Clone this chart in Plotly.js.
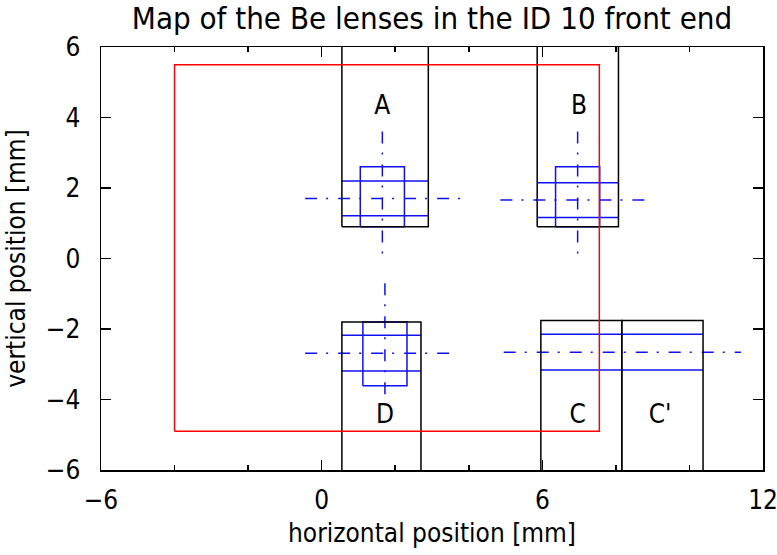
<!DOCTYPE html>
<html>
<head>
<meta charset="utf-8">
<script src="https://cdn.plot.ly/plotly-3.0.1.min.js"></script>
<style>html,body{margin:0;padding:0;background:#fff;}#chart{width:777px;height:555px;}</style>
</head>
<body>
<div id="chart"></div>
<script>
// Red aperture of the front end
const apertureX = [-4, 7.55];
const apertureY = [-4.9, 5.5];

// Black lens holders: A, B, C, C', D
const holderNames = ['A', 'B', 'C', "C'", 'D'];
const holderX0 = [0.55, 5.86, 5.96, 8.16, 0.55];
const holderX1 = [2.9, 8.07, 8.16, 10.37, 2.7];
const holderY0 = [0.9, 0.9, -6.5, -6.5, -6.5];
const holderY1 = [6.5, 6.5, -1.76, -1.76, -1.8];

// Blue horizontal band lines: A, B, C+C', D
const bandX0 = [0.55, 5.86, 5.96, 0.55];
const bandX1 = [2.9, 8.07, 10.37, 2.7];
const bandYLow = [1.21, 1.16, -3.16, -3.19];
const bandYHigh = [2.2, 2.15, -2.15, -2.18];

// Blue squares: A, B, D
const squareX0 = [1.05, 6.36, 1.12];
const squareX1 = [2.25, 7.56, 2.32];
const squareY0 = [0.9, 0.9, -3.61];
const squareY1 = [2.6, 2.6, -1.8];

// Dash-dot horizontal centre lines: A, B, C, D
const hCenterY = [1.7, 1.66, -2.66, -2.69];
const hCenterX0 = [-0.45, 4.86, 4.95, -0.45];
const hCenterX1 = [3.77, 8.97, 11.4, 3.63];

// Dash-dot vertical centre lines: A, B, D
const vCenterX = [1.65, 6.96, 1.72];
const vCenterY0 = [3.6, 3.6, -0.7];
const vCenterY1 = [-0.1, -0.12, -4.02];

// Lens labels
const labelText = ['A', 'B', 'C', "C'", 'D'];
const labelX = [1.65, 7.0, 6.96, 9.2, 1.72];
const labelY = [4.27, 4.27, -4.49, -4.49, -4.49];

function rects(x0, x1, y0, y1) {
  const xs = [], ys = [];
  for (let i = 0; i < x0.length; i++) {
    xs.push(x0[i], x1[i], x1[i], x0[i], x0[i], null);
    ys.push(y0[i], y0[i], y1[i], y1[i], y0[i], null);
  }
  return {x: xs, y: ys};
}
function hsegs(y, x0, x1) {
  const xs = [], ys = [];
  for (let i = 0; i < y.length; i++) { xs.push(x0[i], x1[i], null); ys.push(y[i], y[i], null); }
  return {x: xs, y: ys};
}
function vsegs(x, y0, y1) {
  const xs = [], ys = [];
  for (let i = 0; i < x.length; i++) { xs.push(x[i], x[i], null); ys.push(y0[i], y1[i], null); }
  return {x: xs, y: ys};
}

const FONT = '"DejaVu Sans Condensed", "Liberation Sans", sans-serif';
const DASHDOT = '12px,9px,2px,10px';
const BLUE = '#1010f0';

const sq = rects(squareX0, squareX1, squareY0, squareY1);
const bandA = hsegs(bandYLow, bandX0, bandX1);
const bandB = hsegs(bandYHigh, bandX0, bandX1);
const hold = rects(holderX0, holderX1, holderY0, holderY1);
const ap = rects([apertureX[0]], [apertureX[1]], [apertureY[0]], [apertureY[1]]);
const hc = hsegs(hCenterY, hCenterX0, hCenterX1);
const vc = vsegs(vCenterX, vCenterY0, vCenterY1);

const traces = [
  {x: sq.x, y: sq.y, mode: 'lines', line: {color: BLUE, width: 1.5}, hoverinfo: 'skip'},
  {x: bandA.x.concat(bandB.x), y: bandA.y.concat(bandB.y), mode: 'lines', line: {color: BLUE, width: 1.5}, hoverinfo: 'skip'},
  {x: hc.x, y: hc.y, mode: 'lines', line: {color: BLUE, width: 1.5, dash: DASHDOT}, hoverinfo: 'skip'},
  {x: vc.x, y: vc.y, mode: 'lines', line: {color: BLUE, width: 1.5, dash: DASHDOT}, hoverinfo: 'skip'},
  {x: hold.x, y: hold.y, mode: 'lines', line: {color: '#000', width: 1.5}, hoverinfo: 'skip'},
  {x: ap.x, y: ap.y, mode: 'lines', line: {color: '#ff0000', width: 1.5}, hoverinfo: 'skip'},
  {x: labelX, y: labelY, text: labelText, mode: 'text', textposition: 'middle center',
   textfont: {family: FONT, size: 26, color: '#000'}, hoverinfo: 'skip'}
];

const axisCommon = {
  showgrid: false, zeroline: false, showline: true, linecolor: '#000', linewidth: 1.5,
  mirror: 'ticks', ticks: 'inside', ticklen: 10, tickwidth: 1.5, tickcolor: '#000',
  ticklabeloverflow: 'allow',
  tickfont: {family: FONT, size: 26, color: '#000'}
};

const layout = {
  width: 777, height: 555,
  margin: {l: 101, r: 14, t: 47, b: 85},
  paper_bgcolor: '#fff', plot_bgcolor: '#fff',
  showlegend: false,
  title: {text: 'Map of the Be lenses in the ID 10 front end', x: 0.556, xanchor: 'center', y: 0.968, yanchor: 'middle',
          font: {family: FONT, size: 31, color: '#000'}},
  xaxis: Object.assign({}, axisCommon, {
    range: [-6, 12], tickmode: 'array', tickvals: [-6, 0, 6, 12],
    minor: {tickmode: 'array', tickvals: [-4, -2, 2, 4, 8, 10], ticks: 'inside', ticklen: 5, tickwidth: 1.5, tickcolor: '#000'},
    ticklabelstandoff: 6,
    title: {text: 'horizontal position [mm]', font: {family: FONT, size: 26, color: '#000'}, standoff: 10}
  }),
  yaxis: Object.assign({}, axisCommon, {
    range: [-6, 6], tickmode: 'array', tickvals: [-6, -4, -2, 0, 2, 4, 6],
    ticklabelstandoff: 14,
    title: {text: 'vertical position [mm]', font: {family: FONT, size: 26, color: '#000'}, standoff: 12}
  })
};

Plotly.newPlot('chart', traces, layout, {displayModeBar: false, staticPlot: true});
</script>
</body>
</html>
